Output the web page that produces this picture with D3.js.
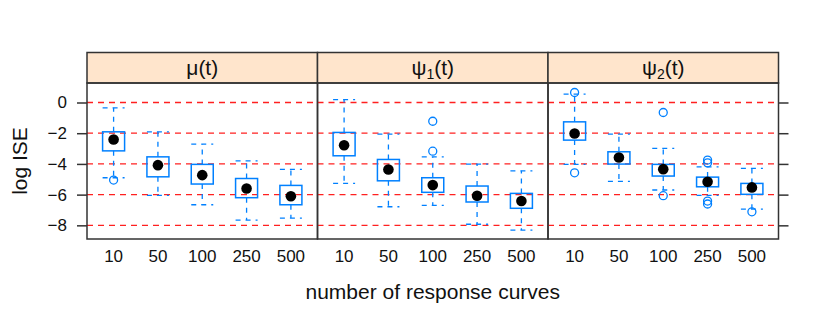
<!DOCTYPE html>
<html><head><meta charset="utf-8">
<script src="https://cdn.jsdelivr.net/npm/d3@7"></script>
<style>body{margin:0;background:#fff}text{font-family:"Liberation Sans",Arial,sans-serif}</style>
</head><body><svg id="c" width="830" height="320"></svg>
<script>
const categories = ["10","50","100","250","500"];
const panels = ["mu","psi1","psi2"];
const yTicks = [0,-2,-4,-6,-8];
// per panel: arrays by category
const whiskLo = {mu:[-4.9,-6.05,-6.66,-7.66,-7.53], psi1:[-5.27,-6.79,-6.70,-7.93,-8.31], psi2:[-4.03,-5.14,-5.70,-6.05,-6.94]};
const q1      = {mu:[-3.15,-4.84,-5.31,-6.2,-6.66], psi1:[-3.47,-5.1,-5.85,-6.48,-6.89], psi2:[-2.45,-4.01,-4.79,-5.49,-5.98]};
const median  = {mu:[-2.41,-4.08,-4.73,-5.6,-6.11], psi1:[-2.78,-4.36,-5.38,-6.07,-6.42], psi2:[-2.02,-3.58,-4.34,-5.16,-5.53]};
const q3      = {mu:[-1.91,-3.54,-4.03,-4.95,-5.4], psi1:[-1.95,-3.71,-4.9,-5.44,-5.92], psi2:[-1.26,-3.21,-4.03,-4.86,-5.27]};
const whiskHi = {mu:[-0.35,-1.91,-2.71,-3.8,-4.36], psi1:[0.19,-2.06,-3.54,-4.01,-4.45], psi2:[0.54,-2.06,-2.99,-4.19,-4.29]};
const outliers = {mu:[[-5.05],[],[],[],[]], psi1:[[],[],[-1.22,-3.17],[],[]], psi2:[[0.65,-4.58],[],[-0.65,-6.07],[-3.75,-3.93,-6.42,-6.61],[-7.12]]};

const svg = d3.select("#c");
const pLeft = 87, pw = 230.5, pTop = 83, pBottom = 239, stripTop = 52.5;
const y = d3.scaleLinear().domain([-8.89,1.27]).range([pBottom, pTop]);
const blue = "#0080ff";
const fs = 17;

panels.forEach((p, pi) => {
  const x0 = pLeft + pi*pw;
  const x = d3.scaleLinear().domain([0.4,5.6]).range([x0, x0+pw]);
  const g = svg.append("g");
  g.append("rect").attr("x",x0).attr("y",stripTop).attr("width",pw).attr("height",pTop-stripTop)
    .attr("fill","#ffe5cc").attr("stroke","#333").attr("stroke-width",1.5);
  const t = g.append("text").attr("x",x0+pw/2).attr("y",pTop-8).attr("text-anchor","middle")
    .attr("font-size",21).attr("fill","#111");
  if (p==="mu") t.text("μ(t)");
  else { t.append("tspan").text("ψ"); t.append("tspan").attr("font-size",14).attr("dy",4).text(p==="psi1"?"1":"2"); t.append("tspan").attr("dy",-4).text("(t)"); }
  g.selectAll(".grid").data(yTicks).enter().append("line")
    .attr("x1",x0).attr("x2",x0+pw).attr("y1",d=>y(d)).attr("y2",d=>y(d))
    .attr("stroke","#ff2020").attr("stroke-width",1.3).attr("stroke-dasharray","6,5");
  const bw = 22;
  categories.forEach((c,i)=>{
    const cx = x(i+1);
    const dash = "5,5";
    g.append("line").attr("x1",cx).attr("x2",cx).attr("y1",y(q3[p][i])).attr("y2",y(whiskHi[p][i])).attr("stroke",blue).attr("stroke-width",1.3).attr("stroke-dasharray",dash);
    g.append("line").attr("x1",cx).attr("x2",cx).attr("y1",y(q1[p][i])).attr("y2",y(whiskLo[p][i])).attr("stroke",blue).attr("stroke-width",1.3).attr("stroke-dasharray",dash);
    [whiskHi[p][i], whiskLo[p][i]].forEach(v=>{
      g.append("line").attr("x1",cx-bw/2).attr("x2",cx+bw/2).attr("y1",y(v)).attr("y2",y(v)).attr("stroke",blue).attr("stroke-width",1.3).attr("stroke-dasharray",dash);
    });
    g.append("rect").attr("x",cx-bw/2).attr("width",bw).attr("y",y(q3[p][i])).attr("height",y(q1[p][i])-y(q3[p][i]))
      .attr("fill","none").attr("stroke",blue).attr("stroke-width",1.5);
    g.append("circle").attr("cx",cx).attr("cy",y(median[p][i])).attr("r",5.3).attr("fill","#000");
    outliers[p][i].forEach(v=>{
      g.append("circle").attr("cx",cx).attr("cy",y(v)).attr("r",4).attr("fill","none").attr("stroke",blue).attr("stroke-width",1.3);
    });
  });
  g.append("rect").attr("x",x0).attr("y",pTop).attr("width",pw).attr("height",pBottom-pTop)
    .attr("fill","none").attr("stroke","#333").attr("stroke-width",1.5);
  g.selectAll(".xl").data(categories).enter().append("text")
    .attr("x",(d,i)=>x(i+1)).attr("y",262).attr("text-anchor","middle").attr("font-size",fs).attr("fill","#111").text(d=>d);
});

const yAxis = d3.axisLeft(y).tickValues(yTicks).tickSize(10).tickPadding(10).tickFormat(d=>d<0?"\u2212"+Math.abs(d):d);
const ya = svg.append("g").attr("transform",`translate(${pLeft},0)`).call(yAxis);
ya.select(".domain").remove();
ya.selectAll("line").attr("stroke","#333").attr("stroke-width",1.5);
ya.selectAll("text").attr("font-size",fs).attr("fill","#111").attr("font-family","Liberation Sans, Arial, sans-serif");
const yAxisR = d3.axisRight(y).tickValues(yTicks).tickSize(10).tickFormat("");
const yr = svg.append("g").attr("transform",`translate(${pLeft+3*pw},0)`).call(yAxisR);
yr.select(".domain").remove();
yr.selectAll("line").attr("stroke","#333").attr("stroke-width",1.5);

svg.append("text").attr("x",pLeft+1.5*pw).attr("y",299).attr("text-anchor","middle").attr("font-size",21).attr("fill","#111").text("number of response curves");
svg.append("text").attr("transform",`translate(27,161) rotate(-90)`).attr("text-anchor","middle").attr("font-size",21).attr("fill","#111").text("log ISE");
</script></body></html>
